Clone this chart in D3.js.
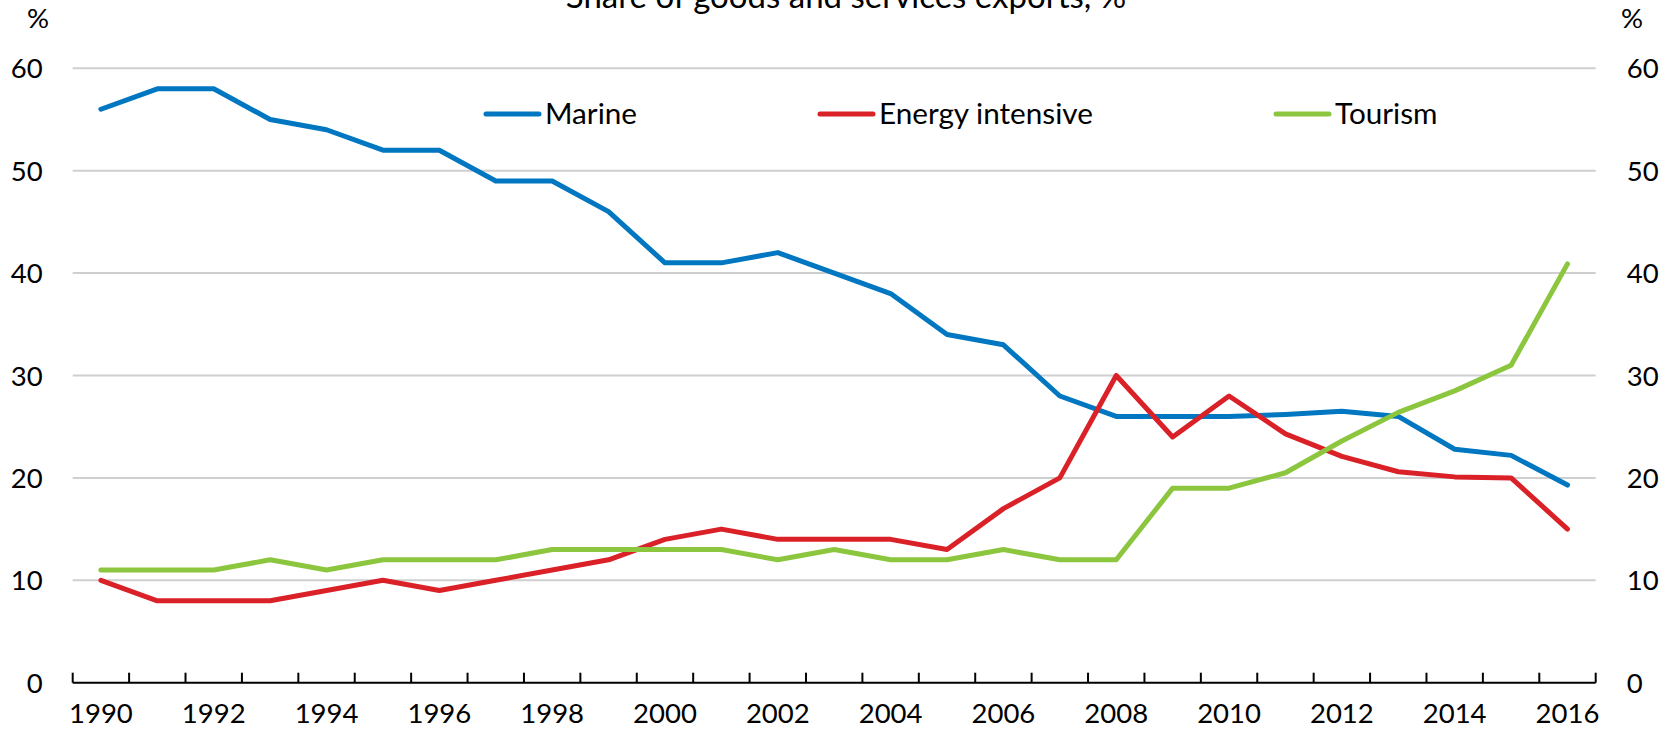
<!DOCTYPE html>
<html>
<head>
<meta charset="utf-8">
<script src="https://cdn.jsdelivr.net/npm/d3@7"></script>
<style>
  body { margin: 0; background: #fff; }
  svg text { font-family: Lato, "Open Sans", sans-serif; fill: #000; }
</style>
</head>
<body>
<div id="viz"></div>
<script>
// data
const years = d3.range(1990, 2017)
const marine = [56, 58, 58, 55, 54, 52, 52, 49, 49, 46, 41, 41, 42, 40, 38, 34, 33, 28, 26, 26, 26, 26.2, 26.5, 26, 22.8, 22.2, 19.3]
const energy = [10, 8, 8, 8, 9, 10, 9, 10, 11, 12, 14, 15, 14, 14, 14, 13, 17, 20, 30, 24, 28, 24.3, 22.1, 20.6, 20.1, 20, 15]
const tourism = [11, 11, 11, 12, 11, 12, 12, 12, 13, 13, 13, 13, 12, 13, 12, 12, 13, 12, 12, 19, 19, 20.5, 23.6, 26.4, 28.5, 31, 40.9]
const yTicks = [0, 10, 20, 30, 40, 50, 60]
const seriesNames = ["Marine", "Energy intensive", "Tourism"]
const title = "Share of goods and services exports, %"

const width = 1675, height = 730
const plotLeft = 72.7, plotRight = 1595.7, plotTop = 68.3, plotBottom = 682.7

const series = [
  { name: seriesNames[0], values: marine, color: "#0077c0", lx: 486 },
  { name: seriesNames[1], values: energy, color: "#da2128", lx: 820 },
  { name: seriesNames[2], values: tourism, color: "#8cc63f", lx: 1276 }
]

const svg = d3.select("#viz").append("svg")
    .attr("width", width)
    .attr("height", height)

const x = d3.scaleBand().domain(years).range([plotLeft, plotRight]).padding(0)
const y = d3.scaleLinear().domain([0, 60]).range([plotBottom, plotTop])
const cx = d => x(d) + x.bandwidth() / 2

// title, clipped at the top like the source
svg.append("text")
    .attr("x", 846)
    .attr("y", 8)
    .attr("text-anchor", "middle")
    .style("font-size", "33px")
    .text(title)

// gridlines
svg.append("g").selectAll("line")
  .data(yTicks.filter(d => d > 0))
  .join("line")
    .attr("x1", plotLeft).attr("x2", plotRight)
    .attr("y1", d => y(d)).attr("y2", d => y(d))
    .attr("stroke", "#cfcfcf")
    .attr("stroke-width", 2)

// y axes, both sides
svg.append("g")
    .attr("transform", `translate(${plotLeft - 30},0)`)
    .call(d3.axisLeft(y).tickValues(yTicks).tickSize(0).tickPadding(0))
svg.append("g")
    .attr("transform", `translate(${plotRight + 31},0)`)
    .call(d3.axisRight(y).tickValues(yTicks).tickSize(0).tickPadding(0))
svg.selectAll(".domain").remove()
svg.selectAll(".tick text")
    .style("font-size", "27.5px")
    .attr("font-family", null)
    .attr("dy", "0.35em")

svg.append("text").attr("x", 49).attr("y", 28)
    .attr("text-anchor", "end").style("font-size", "27.5px").text("%")
svg.append("text").attr("x", 1621).attr("y", 28)
    .attr("text-anchor", "start").style("font-size", "27.5px").text("%")

// x axis: line, ticks at category edges pointing up, labels every 2 years
const xAxis = svg.append("g")
xAxis.append("line")
    .attr("x1", plotLeft).attr("x2", plotRight)
    .attr("y1", plotBottom).attr("y2", plotBottom)
    .attr("stroke", "#000").attr("stroke-width", 2)
xAxis.selectAll(".xt")
  .data(years.map(d => x(d)).concat([plotRight]))
  .join("line")
    .attr("class", "xt")
    .attr("x1", d => d).attr("x2", d => d)
    .attr("y1", plotBottom).attr("y2", plotBottom - 10)
    .attr("stroke", "#000").attr("stroke-width", 2)
xAxis.selectAll(".xl")
  .data(years.filter(d => d % 2 === 0))
  .join("text")
    .attr("class", "xl")
    .attr("x", d => cx(d))
    .attr("y", 722.5)
    .attr("text-anchor", "middle")
    .style("font-size", "27.5px")
    .text(d => d)

// lines
const line = d3.line()
    .x((d, i) => cx(years[i]))
    .y(d => y(d))

svg.append("g").selectAll("path")
  .data(series)
  .join("path")
    .attr("d", d => line(d.values))
    .attr("fill", "none")
    .attr("stroke", d => d.color)
    .attr("stroke-width", 5)
    .attr("stroke-linejoin", "round")
    .attr("stroke-linecap", "round")

// legend
const legend = svg.append("g").selectAll("g")
  .data(series)
  .join("g")
    .attr("transform", d => `translate(${d.lx},114)`)
legend.append("line")
    .attr("x1", 0).attr("x2", 53)
    .attr("stroke", d => d.color)
    .attr("stroke-width", 5)
    .attr("stroke-linecap", "round")
legend.append("text")
    .attr("x", 59)
    .attr("dy", "0.35em")
    .style("font-size", "29.7px")
    .text(d => d.name)
</script>
</body>
</html>
